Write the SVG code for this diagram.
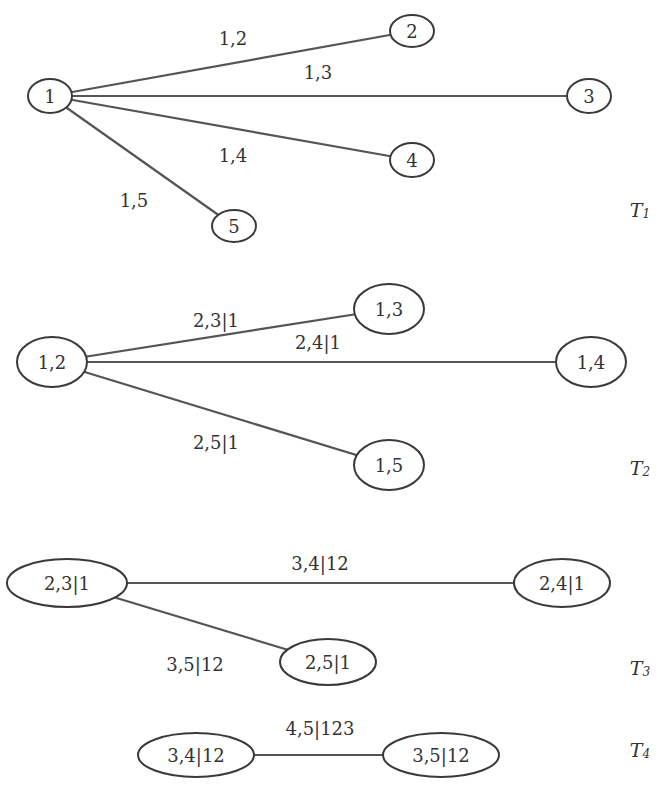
<svg xmlns="http://www.w3.org/2000/svg" width="667" height="791" viewBox="0 0 667 791">
<style>
.n{fill:#fff;stroke:#3a3a3a;stroke-width:2}
.e{stroke:#555;stroke-width:2.2;fill:none}
text{font-family:"DejaVu Serif","Liberation Serif",serif;font-size:18px;fill:#333;text-anchor:middle;dominant-baseline:central}
.t{font-style:italic;font-size:19px}
</style>
<rect width="667" height="791" fill="#fff"/>
<g id="connectors">
<line class="e" x1="50" y1="96" x2="412" y2="31"/>
<line class="e" x1="50" y1="96" x2="589" y2="96"/>
<line class="e" x1="50" y1="96" x2="412" y2="160"/>
<line class="e" x1="50" y1="96" x2="234" y2="226"/>
<line class="e" x1="52" y1="362" x2="389" y2="309"/>
<line class="e" x1="52" y1="362" x2="591" y2="362"/>
<line class="e" x1="52" y1="362" x2="389" y2="465"/>
<line class="e" x1="67" y1="583" x2="562" y2="583"/>
<line class="e" x1="67" y1="583" x2="328" y2="662"/>
<line class="e" x1="196" y1="755" x2="441" y2="755"/>
</g>
<g id="edge-labels">
<text x="233" y="38">1,2</text>
<text x="318" y="72">1,3</text>
<text x="233" y="155">1,4</text>
<text x="134" y="200">1,5</text>
<text x="216" y="320">2,3|1</text>
<text x="318" y="342">2,4|1</text>
<text x="216" y="442">2,5|1</text>
<text x="320" y="563">3,4|12</text>
<text x="195" y="664">3,5|12</text>
<text x="320" y="728">4,5|123</text>
</g>
<g id="n1"><ellipse class="n" cx="50" cy="96" rx="22" ry="17"/><text x="50" y="96">1</text></g>
<g id="n2"><ellipse class="n" cx="412" cy="31" rx="22" ry="16"/><text x="412" y="31">2</text></g>
<g id="n3"><ellipse class="n" cx="589" cy="96" rx="22" ry="17"/><text x="589" y="96">3</text></g>
<g id="n4"><ellipse class="n" cx="412" cy="160" rx="22" ry="17"/><text x="412" y="160">4</text></g>
<g id="n5"><ellipse class="n" cx="234" cy="226" rx="22" ry="16"/><text x="234" y="226">5</text></g>
<g id="n12"><ellipse class="n" cx="52" cy="362" rx="35" ry="25"/><text x="52" y="362">1,2</text></g>
<g id="n13"><ellipse class="n" cx="389" cy="309" rx="35" ry="25"/><text x="389" y="309">1,3</text></g>
<g id="n14"><ellipse class="n" cx="591" cy="362" rx="35" ry="25"/><text x="591" y="362">1,4</text></g>
<g id="n15"><ellipse class="n" cx="389" cy="465" rx="35" ry="25"/><text x="389" y="465">1,5</text></g>
<g id="n23_1"><ellipse class="n" cx="67" cy="583" rx="60" ry="24"/><text x="67" y="583">2,3|1</text></g>
<g id="n24_1"><ellipse class="n" cx="562" cy="583" rx="48" ry="24"/><text x="562" y="583">2,4|1</text></g>
<g id="n25_1"><ellipse class="n" cx="328" cy="662" rx="48" ry="23"/><text x="328" y="662">2,5|1</text></g>
<g id="n34_12"><ellipse class="n" cx="196" cy="755" rx="58" ry="22"/><text x="196" y="755">3,4|12</text></g>
<g id="n35_12"><ellipse class="n" cx="441" cy="755" rx="58" ry="22"/><text x="441" y="755">3,5|12</text></g>
<g id="tree-labels">
<text class="t" x="640" y="210">T<tspan font-size="12" dy="4">1</tspan></text>
<text class="t" x="640" y="468">T<tspan font-size="12" dy="4">2</tspan></text>
<text class="t" x="640" y="668">T<tspan font-size="12" dy="4">3</tspan></text>
<text class="t" x="640" y="750">T<tspan font-size="12" dy="4">4</tspan></text>
</g>
</svg>
